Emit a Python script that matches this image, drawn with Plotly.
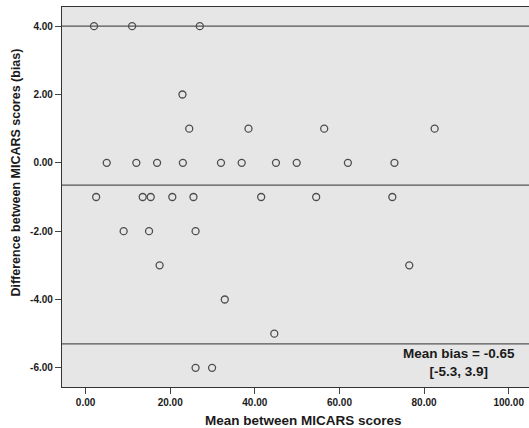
import plotly.graph_objects as go

# Data
mean_scores = [2.0, 11.0, 27.0,
               22.9,
               24.5, 38.5, 56.4, 82.5,
               5.0, 12.0, 16.9, 23.0, 32.0, 36.9, 45.0, 49.9, 62.0, 73.0,
               2.5, 13.5, 15.4, 20.5, 25.5, 41.5, 54.5, 72.5,
               9.0, 15.0, 26.0,
               17.5, 76.5,
               32.9,
               44.6,
               26.0, 29.9]
differences = [4, 4, 4,
               2,
               1, 1, 1, 1,
               0, 0, 0, 0, 0, 0, 0, 0, 0, 0,
               -1, -1, -1, -1, -1, -1, -1, -1,
               -2, -2, -2,
               -3, -3,
               -4,
               -5,
               -6, -6]
mean_bias = -0.65
loa_lower = -5.3
loa_upper = 4.0
x_ticks = [0, 20, 40, 60, 80, 100]
y_ticks = [-6, -4, -2, 0, 2, 4]
bias_label = ["Mean bias = -0.65", "[-5.3, 3.9]"]

FONT = "Liberation Sans, Arial, sans-serif"
TXT = "#1a1a1a"

fig = go.Figure()
fig.add_trace(go.Scatter(
    x=mean_scores, y=differences, mode="markers",
    marker=dict(symbol="circle-open", size=7, color="#4d4d4d",
                line=dict(width=1.3, color="#4d4d4d")),
    showlegend=False, hoverinfo="x+y"))

for v in (loa_upper, mean_bias, loa_lower):
    fig.add_shape(type="line", xref="paper", x0=0, x1=1, yref="y", y0=v, y1=v,
                  line=dict(color="#555555", width=1.2), layer="below")

fig.add_annotation(x=88.2, y=-5.84, xref="x", yref="y",
                   text="<br>".join(bias_label), showarrow=False,
                   yanchor="middle", align="center", borderpad=0,
                   font=dict(family=FONT, size=13.5, color=TXT, weight="bold"))

fig.add_annotation(x=0.518, y=0.0, xref="paper", yref="paper", yshift=-33,
                   text="Mean between MICARS scores", showarrow=False,
                   yanchor="middle",
                   font=dict(family=FONT, size=13.5, color=TXT, weight="bold"))
fig.add_annotation(x=0, y=0.563, xref="paper", yref="paper", xshift=-45.5,
                   text="Difference between MICARS scores (bias)", showarrow=False,
                   textangle=-90, xanchor="center", yanchor="middle",
                   font=dict(family=FONT, size=12.5, color=TXT, weight="bold"))

fig.update_layout(
    width=529, height=428,
    margin=dict(l=62, r=0, t=7, b=41),
    paper_bgcolor="white", plot_bgcolor="#e6e6e6",
    font=dict(family=FONT, color=TXT),
)
fig.update_xaxes(range=[-5.57, 104.8], tickvals=x_ticks,
                 ticktext=[f"{v:.2f}" for v in x_ticks],
                 ticks="outside", ticklen=6, tickcolor="#444", tickwidth=1.2,
                 showgrid=False, zeroline=False,
                 showline=True, linecolor="#333", linewidth=1.2, mirror=True,
                 tickfont=dict(family=FONT, size=10, color=TXT, weight="bold"))
fig.update_yaxes(range=[-6.56, 4.56], tickvals=y_ticks,
                 ticktext=[f"{v:.2f}" for v in y_ticks],
                 ticks="outside", ticklen=6, tickcolor="#444", tickwidth=1.2,
                 showgrid=False, zeroline=False,
                 showline=True, linecolor="#333", linewidth=1.2, mirror=True,
                 tickfont=dict(family=FONT, size=10, color=TXT, weight="bold"))

fig.write_html("out.html", config={"displayModeBar": False},
               post_script="document.body.style.margin='0px';document.body.style.overflow='hidden';")
